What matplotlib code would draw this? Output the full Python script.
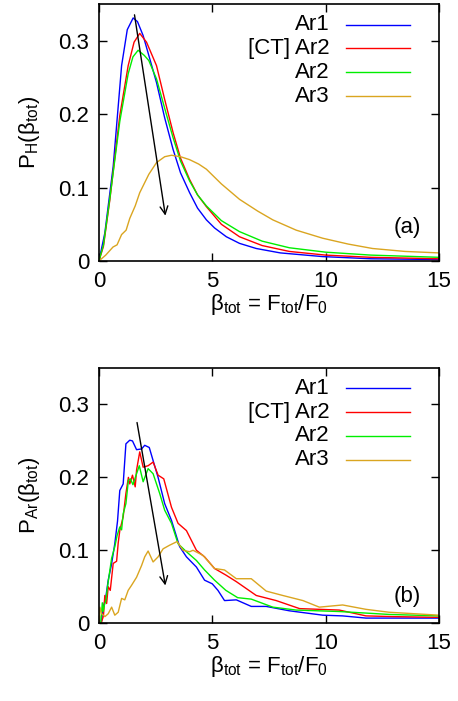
import matplotlib.pyplot as plt

plt.rcParams['font.family'] = ['Liberation Sans', 'DejaVu Sans']
plt.rcParams['mathtext.fontset'] = 'custom'
plt.rcParams['mathtext.rm'] = 'Liberation Sans'
plt.rcParams['mathtext.it'] = 'Liberation Sans'
plt.rcParams['mathtext.default'] = 'rm'

# panel (a): P_H(beta_tot)
a_ar1_x = [0, 0.26, 0.63, 1.0, 1.25, 1.51, 1.7, 1.95, 2.2, 2.54, 2.9, 3.27, 3.6, 4.0, 4.35, 4.74, 5.1, 5.62, 6.2, 6.94, 8.0, 9.86, 12.0, 15.0]
a_ar1_y = [0, 0.038, 0.129, 0.266, 0.315, 0.331, 0.326, 0.307, 0.28, 0.243, 0.195, 0.152, 0.12, 0.093, 0.072, 0.056, 0.045, 0.033, 0.024, 0.017, 0.011, 0.006, 0.003, 0.002]
a_ct_x = [0, 0.2, 0.48, 0.92, 1.29, 1.55, 1.8, 2.1, 2.54, 2.9, 3.27, 3.6, 4.0, 4.35, 4.74, 5.4, 6.2, 7.2, 8.4, 10.0, 12.0, 15.0]
a_ct_y = [0, 0.02, 0.083, 0.198, 0.266, 0.298, 0.310, 0.298, 0.266, 0.22, 0.175, 0.14, 0.111, 0.09, 0.074, 0.05, 0.033, 0.021, 0.013, 0.008, 0.005, 0.003]
a_ar2_x = [0, 0.2, 0.48, 0.92, 1.29, 1.5, 1.73, 2.0, 2.2, 2.54, 2.9, 3.27, 3.6, 4.0, 4.35, 4.74, 5.4, 6.2, 7.2, 8.4, 10.0, 12.0, 15.0]
a_ar2_y = [0, 0.022, 0.085, 0.19, 0.255, 0.278, 0.287, 0.28, 0.273, 0.248, 0.208, 0.168, 0.136, 0.109, 0.09, 0.075, 0.055, 0.04, 0.027, 0.018, 0.012, 0.008, 0.005]
a_ar3_x = [0, 0.3, 0.62, 0.8, 1.0, 1.2, 1.36, 1.6, 1.8, 2.2, 2.54, 2.9, 3.2, 3.6, 4.0, 4.4, 4.74, 5.4, 6.2, 7.0, 7.67, 8.7, 9.87, 11.0, 12.07, 13.5, 15.0]
a_ar3_y = [0, 0.008, 0.019, 0.022, 0.036, 0.042, 0.058, 0.075, 0.093, 0.118, 0.134, 0.142, 0.144, 0.142, 0.138, 0.132, 0.125, 0.105, 0.084, 0.068, 0.056, 0.042, 0.031, 0.023, 0.017, 0.013, 0.011]

# panel (b): P_Ar(beta_tot)
b_ar1_x = [0.1, 0.19, 0.3, 0.41, 0.55, 0.7, 0.82, 0.92, 1.07, 1.19, 1.36, 1.48, 1.66, 1.88, 2.02, 2.22, 2.39, 2.61, 2.9, 3.2, 3.56, 3.86, 4.3, 4.66, 5.0, 5.25, 5.54, 6.06, 6.72, 7.38, 8.4, 9.87, 10.75, 11.78, 13.0, 15.0]
b_ar1_y = [0, 0.022, 0.035, 0.059, 0.08, 0.109, 0.14, 0.182, 0.191, 0.246, 0.251, 0.25, 0.238, 0.239, 0.244, 0.241, 0.223, 0.2, 0.164, 0.141, 0.105, 0.091, 0.077, 0.059, 0.054, 0.045, 0.031, 0.032, 0.023, 0.023, 0.017, 0.011, 0.01, 0.007, 0.007, 0.007]
b_ct_x = [0.1, 0.2, 0.26, 0.34, 0.41, 0.5, 0.63, 0.78, 0.85, 0.92, 1.07, 1.19, 1.3, 1.36, 1.48, 1.6, 1.66, 1.8, 1.95, 2.17, 2.39, 2.61, 2.86, 3.2, 3.49, 3.86, 4.3, 4.66, 5.1, 5.6, 6.06, 6.94, 7.82, 8.85, 10.6, 11.78, 13.0, 15.0]
b_ct_y = [0, 0.01, 0.038, 0.027, 0.05, 0.045, 0.082, 0.085, 0.11, 0.127, 0.146, 0.178, 0.2, 0.191, 0.203, 0.187, 0.21, 0.235, 0.214, 0.216, 0.221, 0.203, 0.198, 0.159, 0.137, 0.127, 0.1, 0.091, 0.075, 0.066, 0.057, 0.038, 0.031, 0.02, 0.018, 0.01, 0.009, 0.008]
b_ar2_x = [0.08, 0.15, 0.19, 0.24, 0.3, 0.4, 0.56, 0.7, 0.8, 0.92, 1.0, 1.07, 1.19, 1.3, 1.39, 1.5, 1.66, 1.78, 1.95, 2.17, 2.39, 2.68, 2.9, 3.2, 3.49, 3.86, 4.3, 4.66, 5.1, 5.6, 6.12, 6.72, 7.67, 8.7, 10.6, 12.8, 15.0]
b_ar2_y = [0, 0.028, 0.016, 0.025, 0.03, 0.055, 0.089, 0.105, 0.12, 0.132, 0.128, 0.15, 0.164, 0.196, 0.198, 0.19, 0.205, 0.216, 0.194, 0.212, 0.205, 0.178, 0.155, 0.137, 0.109, 0.098, 0.086, 0.073, 0.059, 0.045, 0.035, 0.033, 0.022, 0.018, 0.016, 0.012, 0.01]
b_ar3_x = [0, 0.044, 0.117, 0.264, 0.41, 0.56, 0.7, 0.85, 1.0, 1.14, 1.29, 1.44, 1.66, 1.88, 2.02, 2.17, 2.39, 2.61, 2.83, 3.12, 3.45, 3.71, 4.0, 4.15, 4.59, 5.1, 5.54, 6.06, 6.72, 7.38, 8.11, 9.0, 9.72, 10.75, 11.78, 12.8, 15.0]
b_ar3_y = [0, 0.022, 0.013, 0.009, 0.013, 0.022, 0.011, 0.015, 0.034, 0.032, 0.045, 0.052, 0.063, 0.079, 0.091, 0.099, 0.084, 0.091, 0.102, 0.107, 0.112, 0.1, 0.098, 0.1, 0.093, 0.075, 0.073, 0.061, 0.061, 0.044, 0.038, 0.031, 0.022, 0.025, 0.019, 0.015, 0.011]

labels = ['Ar1', '[CT] Ar2', 'Ar2', 'Ar3']
colors = ['#0000ff', '#ff0000', '#00ee00', '#daa520']

# arrows (start, end) in data units
a_arrow = [(1.55, 0.339), (2.95, 0.058)]
b_arrow = [(1.66, 0.279), (2.95, 0.048)]

fs = 16

fig = plt.figure(figsize=(4.58, 7.01), dpi=100)
ax1 = fig.add_axes([0.216, 0.6277, 0.7425, 0.3666])
ax2 = fig.add_axes([0.216, 0.111, 0.7425, 0.364])

panels = [
    (ax1, [(a_ar1_x, a_ar1_y), (a_ct_x, a_ct_y), (a_ar2_x, a_ar2_y), (a_ar3_x, a_ar3_y)],
     r'$P_{H}(\beta_{tot})$', '(a)', a_arrow),
    (ax2, [(b_ar1_x, b_ar1_y), (b_ct_x, b_ct_y), (b_ar2_x, b_ar2_y), (b_ar3_x, b_ar3_y)],
     r'$P_{Ar}(\beta_{tot})$', '(b)', b_arrow),
]

for ax, series, ylab, tag, arrow in panels:
    for (x, y), c in zip(series, colors):
        ax.plot(x, y, color=c, lw=1.0)
    ax.set_xlim(0, 15)
    ax.set_ylim(0, 0.35)
    ax.set_xticks([0, 5, 10, 15])
    ax.set_yticks([0, 0.1, 0.2, 0.3])
    ax.set_yticklabels(['0', '0.1', '0.2', '0.3'])
    ax.tick_params(direction='in', top=True, right=True, length=6, width=1.0, labelsize=fs, pad=7)
    for s in ax.spines.values():
        s.set_linewidth(1.2)
    ax.set_ylabel(ylab, fontsize=fs, labelpad=12)
    ax.set_xlabel(r'$\beta_{tot}$ = $F_{tot}/F_{0}$', fontsize=fs, labelpad=0)
    ax.text(13.6, arrow[1][1] - 0.012, tag, fontsize=fs, ha='center', va='center')
    ax.annotate('', xy=arrow[1], xytext=arrow[0],
                arrowprops=dict(arrowstyle='->', color='black', lw=1.0, mutation_scale=14))
    # gnuplot-style key: right-aligned text, sample line to the right
    for i, (lab, c) in enumerate(zip(labels, colors)):
        yy = 0.92 - i * 0.093
        ax.text(0.679, yy, lab, transform=ax.transAxes, fontsize=fs, ha='right', va='center')
        ax.plot([0.727, 0.915], [yy, yy], transform=ax.transAxes, color=c, lw=1.0)

fig.savefig('out.png', dpi=100)
